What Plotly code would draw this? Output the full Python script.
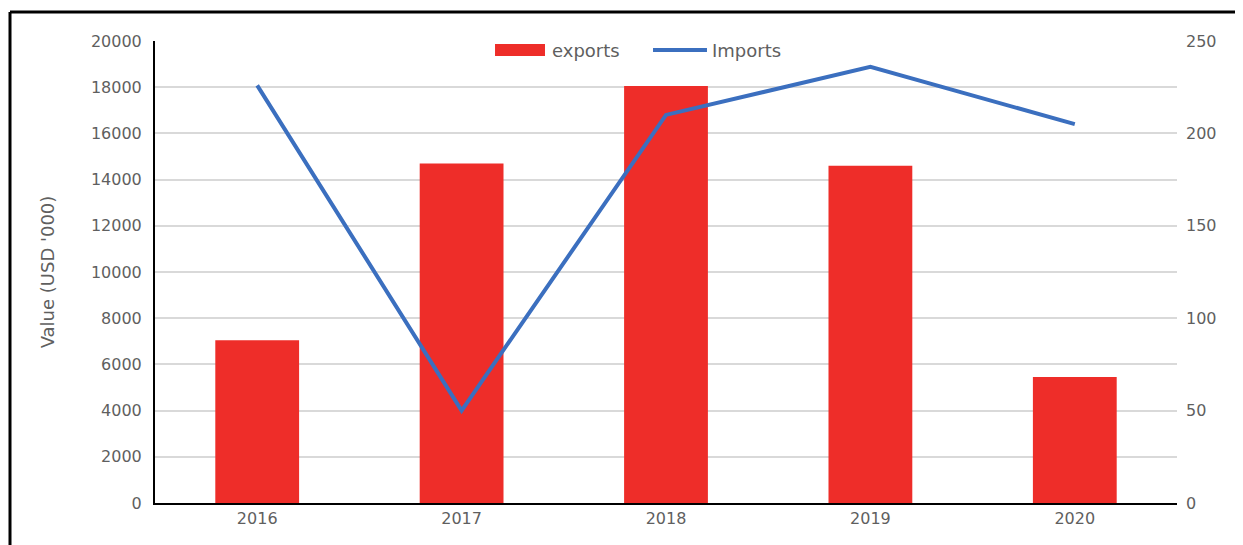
import plotly.graph_objects as go

years = ["2016", "2017", "2018", "2019", "2020"]
exports = [7050, 14700, 18050, 14600, 5450]
imports = [226, 50, 210, 236, 205]
left_ticks = [0, 2000, 4000, 6000, 8000, 10000, 12000, 14000, 16000, 18000, 20000]
right_ticks = [0, 50, 100, 150, 200, 250]

font_fam = "DejaVu Sans, sans-serif"
tick_col = "#5f5f5f"
bar_col = "#ee2d29"
line_col = "#3b6fbf"

fig = go.Figure()
fig.add_trace(go.Bar(x=years, y=exports, name="exports", marker_color=bar_col,
                     marker_line_width=0, yaxis="y", showlegend=False))
fig.add_trace(go.Scatter(x=years, y=imports, name="Imports", mode="lines",
                         line=dict(color=line_col, width=4), yaxis="y2", showlegend=False))

# custom legend (swatches + labels) in paper coordinates
fig.add_shape(type="rect", xref="paper", yref="paper", x0=0.3327, x1=0.3816, y0=0.9675, y1=0.9935,
              fillcolor=bar_col, line_width=0)
fig.add_shape(type="line", xref="paper", yref="paper", x0=0.4873, x1=0.5401, y0=0.9805, y1=0.9805,
              line=dict(color=line_col, width=4))
fig.add_annotation(text="exports", xref="paper", yref="paper", x=0.3865, y=0.9805,
                   xanchor="left", yanchor="middle", showarrow=False,
                   font=dict(size=18, color=tick_col))
fig.add_annotation(text="Imports", xref="paper", yref="paper", x=0.543, y=0.9805,
                   xanchor="left", yanchor="middle", showarrow=False,
                   font=dict(size=18, color=tick_col))

fig.update_layout(
    width=1235, height=537,
    margin=dict(l=147, r=66, t=33, b=42),
    paper_bgcolor="white", plot_bgcolor="white",
    bargap=0.59,
    font=dict(family=font_fam, size=16, color=tick_col),
    xaxis=dict(showline=True, linecolor="black", linewidth=2, ticks="",
               tickfont=dict(size=16, color=tick_col)),
    yaxis=dict(range=[0, 20000], tickvals=left_ticks, ticktext=[str(v) for v in left_ticks],
               showgrid=True, gridcolor="#d9d9d9", gridwidth=1.5,
               showline=True, linecolor="black", linewidth=2, zeroline=False,
               ticks="", ticklabelstandoff=8,
               title=dict(text="Value (USD '000)", font=dict(size=18, color=tick_col), standoff=32),
               tickfont=dict(size=16, color=tick_col)),
    yaxis2=dict(range=[0, 250], tickvals=right_ticks, overlaying="y", side="right",
                showgrid=False, zeroline=False, showline=False, ticks="",
                ticklabelstandoff=8,
                tickfont=dict(size=16, color=tick_col)),
    showlegend=False,
)
fig.add_shape(type="line", xref="paper", yref="paper", x0=-145/1022, x1=1.07,
              y0=1 + 29/462, y1=1 + 29/462, line=dict(color="black", width=3))
fig.add_shape(type="line", xref="paper", yref="paper", x0=-145/1022, x1=-145/1022,
              y0=1 + 29/462, y1=-0.2, line=dict(color="black", width=3))

fig.write_html("out.html")
